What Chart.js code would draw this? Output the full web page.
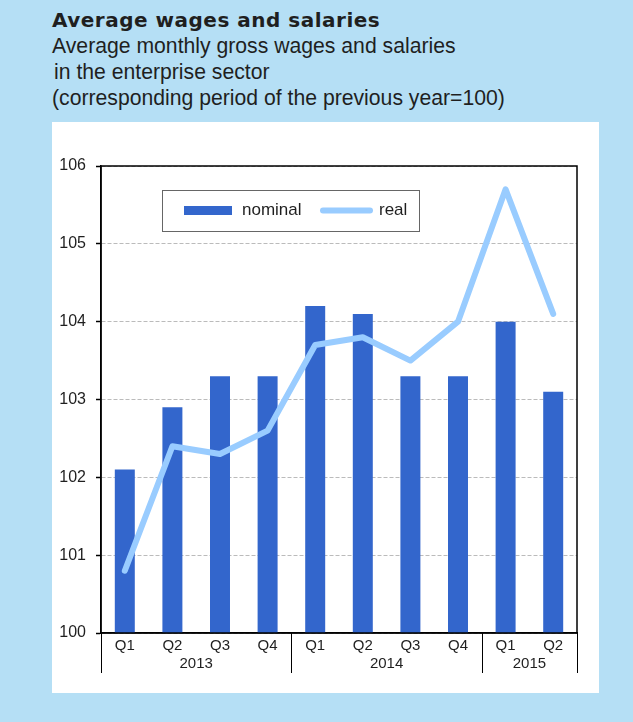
<!DOCTYPE html>
<html lang="en">
<head>
<meta charset="UTF-8">
<title>Average wages and salaries</title>
<script src="https://cdn.jsdelivr.net/npm/chart.js"></script>
<style>
  body { margin: 0; background: #b5dff5; font-family: "Liberation Sans", Arial, sans-serif; color: #1f1f1f; }
  .page { position: relative; width: 633px; height: 722px; }
  h1 { position: absolute; left: 52px; top: 8px; margin: 0; font-family: "DejaVu Sans", sans-serif; font-size: 20px; line-height: 24px; font-weight: bold; letter-spacing: 0.5px; white-space: nowrap; }
  .sub { position: absolute; left: 52px; top: 33px; margin: 0; font-size: 21.2px; line-height: 26px; white-space: nowrap; }
  .sub span { display: block; }
  .sub .in { padding-left: 2px; }
  .panel { position: absolute; left: 52px; top: 122px; width: 547px; height: 571px; background: #fff; }
</style>
</head>
<body>
<div class="page">
  <h1>Average wages and salaries</h1>
  <p class="sub">
    <span>Average monthly gross wages and salaries</span>
    <span class="in">in the enterprise sector</span>
    <span>(corresponding period of the previous year=100)</span>
  </p>
  <div class="panel"><canvas id="wages" width="547" height="571"></canvas></div>
</div>
<script>
const quarters = ["Q1", "Q2", "Q3", "Q4", "Q1", "Q2", "Q3", "Q4", "Q1", "Q2"];
const years = ["2013", "2014", "2015"];
const quartersPerYear = [4, 4, 2];
const nominal = [102.1, 102.9, 103.3, 103.3, 104.2, 104.1, 103.3, 103.3, 104.0, 103.1];
const real = [100.8, 102.4, 102.3, 102.6, 103.7, 103.8, 103.5, 104.0, 105.7, 104.1];

const FONT = '"Liberation Sans", Arial, sans-serif';

// year row under the quarter labels, with separators between years
const yearAxis = {
    id: 'yearAxis',
    afterDraw(chart) {
        const { ctx, chartArea, scales: { x } } = chart;
        const half = (x.getPixelForValue(1) - x.getPixelForValue(0)) / 2;
        const bottom = chartArea.bottom;
        const sep = px => {
            const xx = Math.round(px) + 0.5;
            ctx.beginPath();
            ctx.moveTo(xx, bottom);
            ctx.lineTo(xx, bottom + 40);
            ctx.stroke();
        };
        ctx.save();
        ctx.strokeStyle = '#000';
        ctx.lineWidth = 1;
        ctx.fillStyle = '#1f1f1f';
        ctx.font = '15px ' + FONT;
        ctx.textAlign = 'center';
        ctx.textBaseline = 'middle';
        sep(x.getPixelForValue(0) - half);
        let start = 0;
        years.forEach((y, i) => {
            const end = start + quartersPerYear[i];
            const left = x.getPixelForValue(start) - half;
            const right = x.getPixelForValue(end - 1) + half;
            ctx.fillText(y, (left + right) / 2, bottom + 31);
            sep(right);
            start = end;
        });
        ctx.restore();
    }
};

// black frame round the plot area
const frame = {
    id: 'frame',
    afterDraw(chart) {
        const { ctx, chartArea: a } = chart;
        ctx.save();
        ctx.strokeStyle = '#000';
        ctx.lineWidth = 1.5;
        ctx.strokeRect(a.left, a.top, a.right - a.left, a.bottom - a.top);
        ctx.restore();
    }
};

// boxed legend inside the plot
const boxLegend = {
    id: 'boxLegend',
    afterDraw(chart) {
        const { ctx, chartArea: a } = chart;
        const bars = chart.data.datasets[1], line = chart.data.datasets[0];
        const bx = a.left + 61, by = a.top + 24, bw = 257, bh = 41;
        const cy = by + bh / 2;
        ctx.save();
        ctx.fillStyle = '#fff';
        ctx.fillRect(bx, by, bw, bh);
        ctx.strokeStyle = '#666';
        ctx.lineWidth = 1;
        ctx.strokeRect(bx + 0.5, by + 0.5, bw, bh);
        ctx.fillStyle = bars.backgroundColor;
        ctx.fillRect(bx + 22, cy - 4.5, 48, 9);
        ctx.strokeStyle = line.borderColor;
        ctx.lineWidth = 6;
        ctx.lineCap = 'round';
        ctx.beginPath();
        ctx.moveTo(bx + 161, cy);
        ctx.lineTo(bx + 208, cy);
        ctx.stroke();
        ctx.fillStyle = '#1f1f1f';
        ctx.font = '17px ' + FONT;
        ctx.textBaseline = 'middle';
        ctx.fillText(bars.label, bx + 80, cy);
        ctx.fillText(line.label, bx + 217, cy);
        ctx.restore();
    }
};

new Chart(document.getElementById('wages'), {
    data: {
        labels: quarters,
        datasets: [
            {
                type: 'line',
                label: 'real',
                data: real,
                borderColor: '#99ccff',
                borderWidth: 6,
                borderCapStyle: 'round',
                borderJoinStyle: 'round',
                pointRadius: 0,
                tension: 0,
                order: 0
            },
            {
                type: 'bar',
                label: 'nominal',
                data: nominal,
                backgroundColor: '#3366cc',
                categoryPercentage: 1,
                barPercentage: 0.42,
                order: 1
            }
        ]
    },
    options: {
        responsive: false,
        animation: false,
        layout: { padding: { left: 0, right: 22, top: 44, bottom: 20 } },
        plugins: { legend: { display: false }, tooltip: { enabled: false } },
        scales: {
            x: {
                grid: { display: false, drawTicks: false },
                border: { color: '#000', width: 1.5 },
                ticks: { color: '#1f1f1f', font: { family: FONT, size: 15 }, padding: 4, maxRotation: 0, autoSkip: false },
                afterFit: s => { s.height = 40; }
            },
            y: {
                min: 100,
                max: 106,
                ticks: { stepSize: 1, color: '#1f1f1f', font: { family: FONT, size: 16 }, padding: 10 },
                grid: { color: '#bbbbbb', lineWidth: 1, tickColor: '#000', tickLength: 5, tickWidth: 1.5 },
                border: { color: '#000', width: 1.5, dash: [4, 2] },
                afterFit: s => { s.width = 49; }
            }
        }
    },
    plugins: [yearAxis, frame, boxLegend]
});
</script>
</body>
</html>
